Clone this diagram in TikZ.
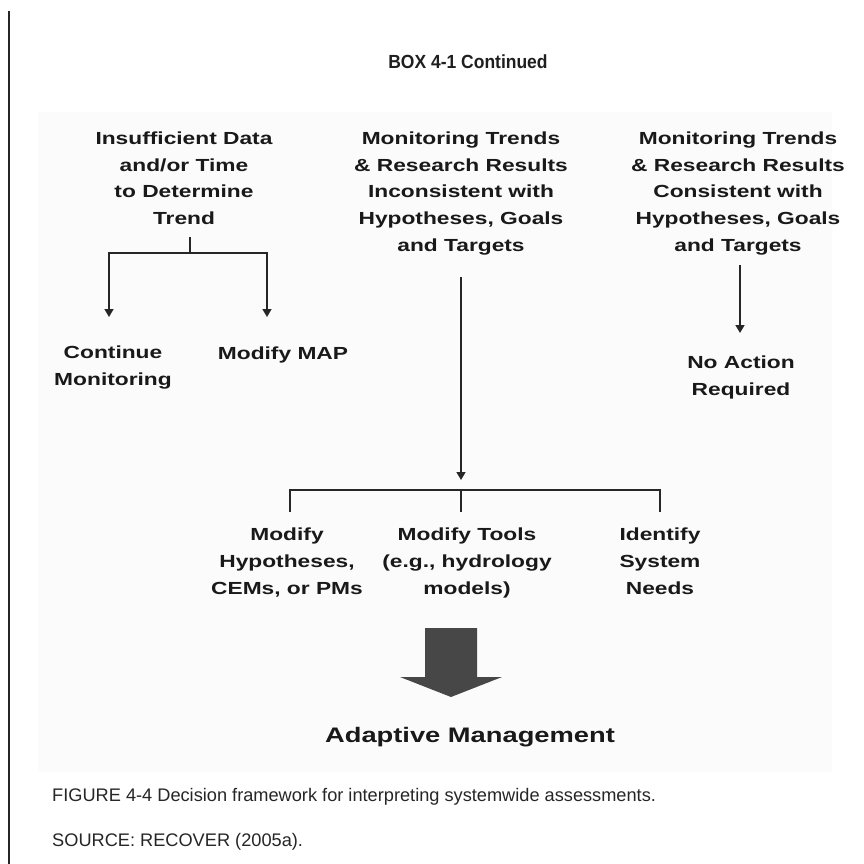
\documentclass[tikz,border=0pt]{standalone}
\usepackage{fontspec}
\setmainfont{Liberation Sans}
\newfontfamily\dfont[FakeStretch=1.3]{Liberation Sans Bold}
\newfontfamily\tfont[FakeStretch=0.92]{Liberation Sans Bold}
\usetikzlibrary{arrows.meta}
\begin{document}
\begin{tikzpicture}[x=1pt,y=-1pt,
  dtext/.style={font=\dfont\fontsize{17.5}{26.7}\selectfont, align=center, text=black!90, inner sep=0pt},
  conn/.style={draw=black!85, line width=1.6pt},
  arr/.style={conn, -{Triangle[length=8pt,width=9pt]}},
  bigarrow/.style={fill=black!72, draw=none},
  capt/.style={font=\fontsize{18.2}{21}\selectfont, text=black!85, inner sep=0pt}
]
\useasboundingbox (0,0) rectangle (863,864);
\fill[white] (0,0) rectangle (863,864);
% faint background of the scanned figure
\fill[black!1.5] (38,112) rectangle (832,772);
% left page rule
\draw[black!85, line width=1.8pt] (9,11) -- (9,864);

% title
\node[font=\tfont\fontsize{19}{21}\selectfont, text=black!88, anchor=base, inner sep=0pt] (title) at (468,69) {BOX 4-1 Continued};

% top row
\node[dtext, anchor=north] (insuf) at (184,131.6) {Insufficient Data\\and/or Time\\to Determine\\Trend};
\node[dtext, anchor=north] (incons) at (461,131.6) {Monitoring Trends\\\& Research Results\\Inconsistent with\\Hypotheses, Goals\\and Targets};
\node[dtext, anchor=north] (cons) at (738,131.6) {Monitoring Trends\\\& Research Results\\Consistent with\\Hypotheses, Goals\\and Targets};

% second row
\node[dtext, anchor=north] (cont) at (113,345.6) {Continue\\Monitoring};
\node[dtext, anchor=north] (map) at (283,346.6) {Modify MAP};
\node[dtext, anchor=north] (noact) at (741,355.6) {No Action\\Required};

% bottom row
\node[dtext, anchor=north] (hyp) at (287,528) {Modify\\Hypotheses,\\CEMs, or PMs};
\node[dtext, anchor=north] (tools) at (467,528) {Modify Tools\\(e.g., hydrology\\models)};
\node[dtext, anchor=north] (needs) at (660,528) {Identify\\System\\Needs};

% adaptive management
\node[font=\dfont\fontsize{21}{24}\selectfont, text=black!90, anchor=base, inner sep=0pt] (adapt) at (470,742) {Adaptive Management};

% caption
\node[capt, anchor=base west] (fig) at (52,801) {FIGURE 4-4 Decision framework for interpreting systemwide assessments.};
\node[capt, anchor=base west] (src) at (52,846) {SOURCE: RECOVER (2005a).};

% coordinates for connectors
\coordinate (ltop) at (190,237);
\coordinate (fork) at (190,253);
\coordinate (ltip) at (109,317);
\coordinate (rtip) at (267,317);
\coordinate (mtop) at (461,277);
\coordinate (mtip) at (461,480);
\coordinate (bm) at (461,490);
\coordinate (t1) at (290,512);
\coordinate (t2) at (461,512);
\coordinate (t3) at (660,512);
\coordinate (ctop) at (740,265);
\coordinate (ctip) at (740,333);

% left fork
\draw[conn] (ltop) -- (fork);
\draw[arr] (fork) -| (ltip);
\draw[arr] (fork) -| (rtip);

% middle
\draw[arr] (mtop) -- (mtip);
\draw[conn] (bm) -| (t1);
\draw[conn] (bm) -| (t3);
\draw[conn] (bm) -- (t2);

% right
\draw[arr] (ctop) -- (ctip);

% big block arrow
\path[bigarrow] (425,628) -- (477,628) -- (477,677) -- (502,677) -- (451,697) -- (400,677) -- (425,677) -- cycle;
\end{tikzpicture}
\end{document}
